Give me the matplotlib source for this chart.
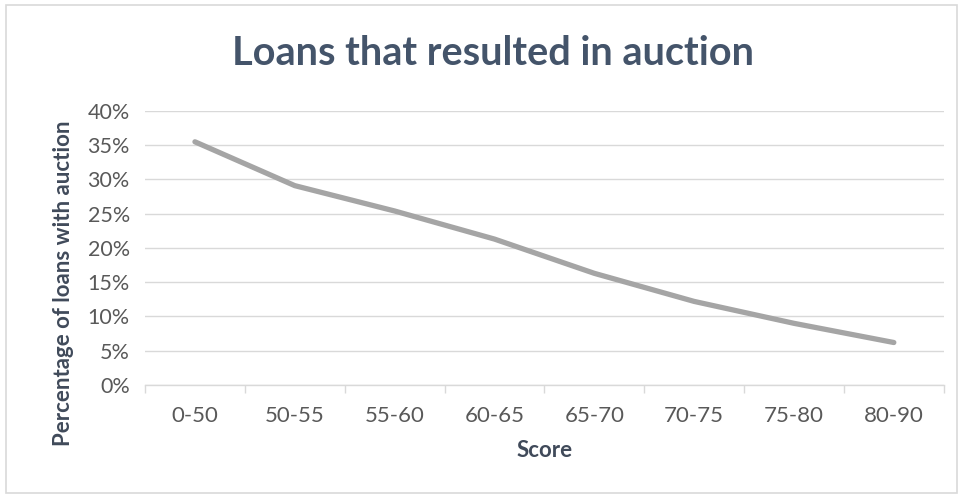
import matplotlib
matplotlib.use("Agg")
import matplotlib.pyplot as plt
from matplotlib.patches import Rectangle
from matplotlib.ticker import PercentFormatter, FixedLocator
import numpy as np

# data
scores = ["0-50", "50-55", "55-60", "60-65", "65-70", "70-75", "75-80", "80-90"]
pct_auction = [35.5, 29.1, 25.4, 21.3, 16.3, 12.2, 9.0, 6.2]
y_ticks = [0, 5, 10, 15, 20, 25, 30, 35, 40]

plt.rcParams['font.family'] = ['Lato', 'DejaVu Sans']

fig = plt.figure(figsize=(9.63, 4.97), dpi=100)
ax = fig.add_axes([0.1506, 0.2254, 0.8294, 0.5513])

x = np.arange(len(scores))
ax.plot(x, pct_auction, color="#a5a5a5", lw=3.8, solid_capstyle="round",
        solid_joinstyle="round", zorder=3)

ax.set_xlim(-0.5, len(scores) - 0.5)
ax.set_ylim(0, 40)
ax.set_yticks(y_ticks)
ax.yaxis.set_major_formatter(PercentFormatter(decimals=0))
ax.set_xticks(x)
ax.set_xticklabels(scores)
ax.xaxis.set_minor_locator(FixedLocator(np.arange(len(scores) + 1) - 0.5))

ax.grid(axis="y", color="#d9d9d9", lw=1)
ax.set_axisbelow(True)
for s in ["top", "right", "left"]:
    ax.spines[s].set_visible(False)
ax.spines["bottom"].set_color("#d9d9d9")
ax.spines["bottom"].set_linewidth(1)

ax.tick_params(axis="y", length=0, pad=11, labelsize=15.5, labelcolor="#595959")
ax.tick_params(axis="x", which="major", length=0, pad=15, labelsize=16,
               labelcolor="#595959")
ax.tick_params(axis="x", which="minor", length=6, width=1, color="#d9d9d9")

ax.set_xlabel("Score", fontsize=16, fontweight="bold", color="#404a5a", labelpad=10)
ax.set_ylabel("Percentage of loans with auction", fontsize=16, fontweight="bold",
              color="#404a5a")
# excel puts the axis title lower than the plot centre
ax.yaxis.set_label_coords(-0.089, 0.37)

fig.text(0.512, 0.893, "Loans that resulted in auction", ha="center", va="center",
         fontsize=28.5, fontweight="bold", color="#44546a")

# light frame around the chart
fig.patches.append(Rectangle((0.006, 0.008), 0.988, 0.982, transform=fig.transFigure,
                             fill=False, edgecolor="#d9d9d9", lw=1.2))

fig.savefig("out.png", dpi=100)
